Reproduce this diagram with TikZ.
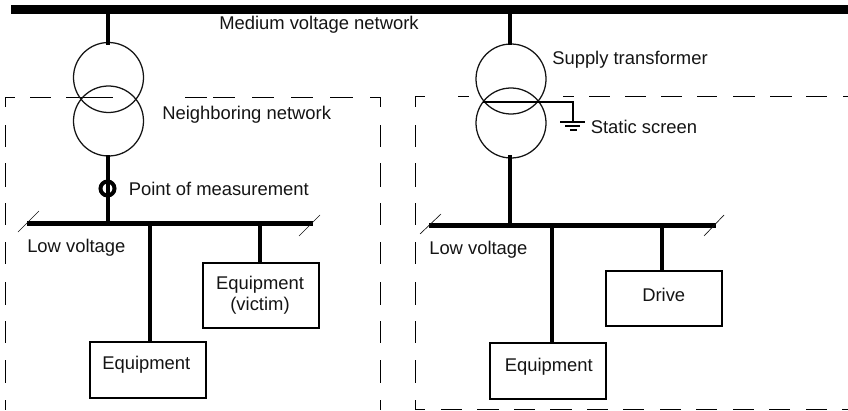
\documentclass[tikz,border=0pt]{standalone}
\usepackage{fontspec}
\setmainfont{Liberation Sans}
\definecolor{ink}{RGB}{20,20,20}
\tikzset{
  x=0.75pt,y=-0.75pt,
  winding/.style={circle,draw=ink,line width=0.95pt,minimum size=52.5pt,inner sep=0pt,outer sep=0pt},
  mainbus/.style={draw=black,line width=6.75pt},
  lvbus/.style={draw=black,line width=3.5pt},
  stem/.style={draw=black,line width=3pt},
  tick/.style={draw=ink,line width=0.5pt},
  frame/.style={draw=black,line width=0.75pt},
  loadbox/.style={rectangle,draw=black,line width=1.5pt,inner sep=0pt,outer sep=0pt},
  lbl/.style={font=\fontsize{13.8pt}{16pt}\selectfont,text=ink,inner sep=0pt,anchor=base west},
  lblc/.style={font=\fontsize{13.8pt}{16pt}\selectfont,text=ink,inner sep=0pt,align=center},
  shield/.style={draw=black,line width=1.5pt},
}
\begin{document}
\begin{tikzpicture}
\useasboundingbox (0,0) rectangle (848,410);
% frames
\foreach \a/\b in {5/15,30/51,66/113,185/207,213/235,252/274,291/313,330/353,370/380}
  \draw[frame] (\a,97) -- (\b,97);
\foreach \a/\b in {97/107,125/147,163/187,203/225,242/264,282/305,321/343,360/383,400/410}{
  \draw[frame] (5,\a) -- (5,\b);
  \draw[frame] (380,\a) -- (380,\b);
}
\foreach \a/\b in {415/425,458/469,563/574,589/610,625/646,661/682,697/717,733/755,770/792,806/827,843/848}
  \draw[frame] (\a,96.5) -- (\b,96.5);
\foreach \a/\b in {97/107,125/147,163/187,203/225,242/264,282/305,321/343,360/383}
  \draw[frame] (415,\a) -- (415,\b);
\draw[frame] (415,400) -- (415,409.5) -- (425,409.5);
\foreach \a/\b in {441/462,477/499,514/535,550/572,587/608,623/644,660/681,696/717,733/754,769/790,806/827,842/848}
  \draw[frame] (\a,409.5) -- (\b,409.5);
% buses
\coordinate (mvL) at (11,9.5); \coordinate (mvR) at (848,9.5);
\draw[mainbus] (mvL) -- (mvR);
\coordinate (lvAL) at (27,223.5); \coordinate (lvAR) at (313,223.5);
\coordinate (lvBL) at (429,225.5); \coordinate (lvBR) at (716,225.5);
\draw[lvbus] (lvAL) -- (lvAR);
\draw[lvbus] (lvBL) -- (lvBR);
% transformers
\node[winding] (tAu) at (108.5,77.5) {};
\node[winding] (tAl) at (108.5,121) {};
\node[winding] (tBu) at (511,79) {};
\node[winding] (tBl) at (511,123) {};
\coordinate (mvA) at (108,9.5); \coordinate (mvB) at (510,9.5);
\coordinate (lvA) at (108,223.5); \coordinate (lvB) at (510,225.5);
\draw[stem] (mvA) -- (108,45);
\draw[stem] (108,155) -- (lvA);
\draw[stem] (mvB) -- (510,45);
\draw[stem] (510,155) -- (lvB);
% measurement ring
\node[circle,draw=black,line width=3pt,minimum size=10.5pt,inner sep=0pt] (pm) at (107.5,188.5) {};
% ticks
\coordinate (t1a) at (18,232); \coordinate (t1b) at (39,211);
\coordinate (t2a) at (299,236); \coordinate (t2b) at (320,215);
\coordinate (t3a) at (420,234); \coordinate (t3b) at (441,214);
\coordinate (t4a) at (704,236); \coordinate (t4b) at (724,215);
\draw[tick] (t1a) -- (t1b);
\draw[tick] (t2a) -- (t2b);
\draw[tick] (t3a) -- (t3b);
\draw[tick] (t4a) -- (t4b);
% boxes
\node[loadbox,minimum width=87pt,minimum height=48.5pt] (victim) at (260.5,295.5) {};
\node[loadbox,minimum width=87pt,minimum height=41.5pt] (equipA) at (148,370) {};
\node[loadbox,minimum width=87pt,minimum height=41.5pt] (drive) at (664,298.5) {};
\node[loadbox,minimum width=87pt,minimum height=41.5pt] (equipB) at (548,371) {};
\coordinate (sA1) at (150,223.5); \coordinate (sA2) at (260,223.5);
\coordinate (sB1) at (552,225.5); \coordinate (sB2) at (662,225.5);
\draw[stem] (sA1) -- (sA1 |- equipA.north);
\draw[stem] (sA2) -- (sA2 |- victim.north);
\draw[stem] (sB1) -- (sB1 |- equipB.north);
\draw[stem] (sB2) -- (sB2 |- drive.north);
% static screen
\coordinate (scrL) at (483,102); \coordinate (scrC) at (573,102); \coordinate (gnd) at (573,121.7);
\draw[shield] (scrL) -- (scrC) -- (gnd);
\draw[shield] (560,121.7) -- (585,121.7);
\draw[shield] (565,126) -- (580,126);
\draw[shield] (570,129.5) -- (577,129.5);
% labels
\node[lbl] (l1) at (219,29.5) {Medium voltage network};
\node[lbl] (l2) at (162,119.5) {Neighboring network};
\node[lbl] (l3) at (128.5,195) {Point of measurement};
\node[lbl] (l4) at (27,252.5) {Low voltage};
\node[lbl] (l5) at (429,254.5) {Low voltage};
\node[lbl] (l6) at (552,64.5) {Supply transformer};
\node[lbl] (l7) at (590.5,133) {Static screen};
\node[lblc] (l8) at (260,295.5) {Equipment\\(victim)};
\node[lbl] (l9) at (102,369) {Equipment};
\node[lbl] (l10) at (504.5,371) {Equipment};
\node[lbl] (l11) at (642,301) {Drive};
\end{tikzpicture}
\end{document}
